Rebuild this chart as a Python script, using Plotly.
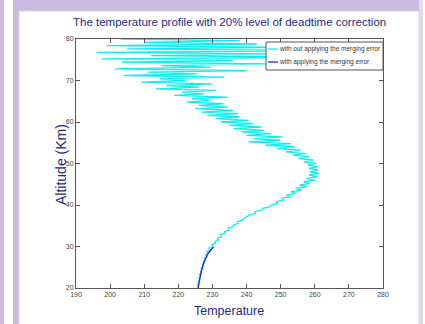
import plotly.graph_objects as go

ALT = [
    20.0, 20.4, 20.8, 21.2, 21.6, 22.0, 22.4, 22.8, 23.2, 23.6,
    24.0, 24.4, 24.8, 25.2, 25.6, 26.0, 26.4, 26.8, 27.2, 27.6,
    28.0, 28.4, 28.8, 29.2, 29.6, 30.0, 30.4, 30.8, 31.2, 31.6,
    32.0, 32.4, 32.8, 33.2, 33.6, 34.0, 34.4, 34.8, 35.2, 35.6,
    36.0, 36.4, 36.8, 37.2, 37.6, 38.0, 38.4, 38.8, 39.2, 39.6,
    40.0, 40.4, 40.8, 41.2, 41.6, 42.0, 42.4, 42.8, 43.2, 43.6,
    44.0, 44.4, 44.8, 45.2, 45.6, 46.0, 46.4, 46.8, 47.2, 47.6,
    48.0, 48.4, 48.8, 49.2, 49.6, 50.0, 50.4, 50.8, 51.2, 51.6,
    52.0, 52.4, 52.8, 53.2, 53.6, 54.0, 54.4, 54.8, 55.2, 55.6,
    56.0, 56.4, 56.8, 57.2, 57.6, 58.0, 58.4, 58.8, 59.2, 59.6,
    60.0, 60.4, 60.8, 61.2, 61.6, 62.0, 62.4, 62.8, 63.2, 63.6,
    64.0, 64.4, 64.8, 65.2, 65.6, 66.0, 66.4, 66.8, 67.2, 67.6,
    68.0, 68.4, 68.8, 69.2, 69.6, 70.0, 70.4, 70.8, 71.2, 71.6,
    72.0, 72.4, 72.8, 73.2, 73.6, 74.0, 74.4, 74.8, 75.2, 75.6,
    76.0, 76.4, 76.8, 77.2, 77.6, 78.0, 78.4, 78.8, 79.2, 79.6,
    80.0,
]
TEMP_NO_MERGE = [
    225.7, 225.9, 225.6, 226.0, 225.8, 226.3, 226.0, 226.5, 226.2, 226.8,
    226.6, 227.0, 226.7, 227.3, 227.1, 227.6, 227.3, 228.0, 227.7, 228.4,
    228.0, 228.8, 228.4, 229.3, 229.0, 230.1, 229.8, 230.9, 230.7, 231.8,
    231.5, 232.6, 232.4, 233.5, 233.6, 234.8, 234.6, 236.0, 236.2, 237.5,
    237.3, 238.9, 239.2, 240.3, 240.9, 242.6, 242.4, 244.5, 244.8, 246.9,
    247.2, 249.3, 248.6, 251.0, 250.2, 252.9, 251.6, 254.5, 253.0, 256.2,
    254.4, 257.6, 255.5, 258.6, 256.8, 260.0, 257.5, 260.8, 258.3, 261.2,
    258.6, 261.0, 258.2, 260.9, 257.9, 260.3, 256.8, 259.6, 255.2, 258.5,
    253.5, 257.3, 251.5, 255.8, 249.0, 254.2, 245.5, 253.0, 240.5, 249.8,
    242.0, 250.5, 240.0, 247.2, 238.5, 245.0, 236.2, 244.3, 234.8, 242.0,
    232.5, 240.5, 231.0, 238.0, 228.5, 237.5, 226.8, 236.0, 225.0, 234.5,
    226.0, 233.2, 222.5, 229.0, 224.0, 234.5, 218.8, 227.5, 221.0, 231.0,
    213.5, 226.2, 216.5, 229.8, 209.2, 222.0, 214.5, 233.5, 204.0, 225.5,
    211.0, 240.0, 201.5, 229.5, 215.0, 247.0, 203.5, 236.0, 197.5, 262.0,
    212.0, 248.5, 196.0, 266.0, 205.0, 252.0, 199.0, 243.0, 210.0, 238.0,
    203.0,
]
BLUE_ALT = [20.0, 20.5, 21.0, 21.5, 22.0, 22.5, 23.0, 23.5, 24.0, 24.5,
            25.0, 25.5, 26.0, 26.5, 27.0, 27.5, 28.0, 28.5, 29.0, 29.5, 29.8]
TEMP_MERGE = [225.8, 225.9, 226.0, 226.1, 226.1, 226.3, 226.4, 226.5, 226.7, 226.9,
              227.0, 227.2, 227.4, 227.7, 227.9, 228.2, 228.5, 228.9, 229.3, 229.9, 230.4]

X_TICKS = [190, 200, 210, 220, 230, 240, 250, 260, 270, 280]
Y_TICKS = [20, 30, 40, 50, 60, 70, 80]

TITLE = "The temperature profile with 20% level of deadtime correction"
LEGEND_LABELS = ["with out applying the merging error", "with applying the merging error"]
CYAN = "#12ecec"
BLUE = "#2626b8"
NAVY = "#1e2a78"
FONT = "Liberation Sans, Arial"

n = min(len(ALT), len(TEMP_NO_MERGE))

W, H = 425, 324
L, R, T, B = 76, 383, 39, 288


def px(x):
    return (x - L) / (R - L)


def py(y):
    return (B - y) / (B - T)


fig = go.Figure()
fig.add_trace(go.Scatter(x=TEMP_NO_MERGE[:n], y=ALT[:n], mode="lines",
                         line=dict(color=CYAN, width=1.3), name=LEGEND_LABELS[0]))
fig.add_trace(go.Scatter(x=TEMP_MERGE, y=BLUE_ALT, mode="lines",
                         line=dict(color=BLUE, width=1.3), name=LEGEND_LABELS[1]))

shapes = []
# slide frame
shapes.append(dict(type="rect", xref="paper", yref="paper", layer="below",
                   x0=px(0), x1=px(4), y0=py(324), y1=py(0),
                   fillcolor="#cdbde3", line=dict(width=0)))
shapes.append(dict(type="rect", xref="paper", yref="paper", layer="below",
                   x0=px(13), x1=px(423), y0=py(11), y1=py(0),
                   fillcolor="#c9b8e0", line=dict(width=0)))
shapes.append(dict(type="rect", xref="paper", yref="paper", layer="below",
                   x0=px(13), x1=px(19), y0=py(324), y1=py(0),
                   fillcolor="#c9b8e0", line=dict(width=0)))
shapes.append(dict(type="rect", xref="paper", yref="paper", layer="below",
                   x0=px(419), x1=px(423), y0=py(324), y1=py(0),
                   fillcolor="#e3daf0", line=dict(width=0)))
shapes.append(dict(type="rect", xref="paper", yref="paper", layer="below",
                   x0=px(19), x1=px(419), y0=py(326), y1=py(11),
                   fillcolor="white", line=dict(color="#d8d8d8", width=1)))
# legend box
lx0, lx1, ly0, ly1 = 266, 383, 42, 70
shapes.append(dict(type="rect", xref="paper", yref="paper", layer="above",
                   x0=px(lx0), x1=px(lx1), y0=py(ly1), y1=py(ly0),
                   fillcolor="white", line=dict(color="#555555", width=1)))
for i, (yy, col) in enumerate([(49, CYAN), (62, BLUE)]):
    shapes.append(dict(type="line", xref="paper", yref="paper", layer="above",
                       x0=px(268), x1=px(278), y0=py(yy), y1=py(yy),
                       line=dict(color=col, width=1.3)))

annotations = []
for i, yy in enumerate([49, 62]):
    annotations.append(dict(xref="paper", yref="paper", x=px(277), y=py(yy),
                            xanchor="left", yanchor="middle", showarrow=False,
                            text=LEGEND_LABELS[i],
                            font=dict(family=FONT, size=6.5, color="#333333")))
annotations.append(dict(xref="paper", yref="paper", x=px(229), y=py(311),
                        xanchor="center", yanchor="middle", showarrow=False,
                        text="Temperature",
                        font=dict(family=FONT, size=12.5, color=NAVY)))
annotations.append(dict(xref="paper", yref="paper", x=px(61), y=py(165),
                        xanchor="center", yanchor="middle", showarrow=False,
                        text="Altitude (Km)", textangle=-90,
                        font=dict(family=FONT, size=14, color=NAVY)))
annotations.append(dict(xref="paper", yref="paper", x=px(229), y=py(22),
                        xanchor="center", yanchor="middle", showarrow=False,
                        text=TITLE,
                        font=dict(family=FONT, size=11.5, color=NAVY)))

axis_common = dict(showgrid=False, zeroline=False, showline=True, linecolor="#555555",
                   linewidth=1, mirror="ticks", ticks="inside", ticklen=4,
                   tickcolor="#555555",
                   tickfont=dict(family=FONT, size=7, color="#444444"))

fig.update_layout(
    width=W, height=H,
    margin=dict(l=L, r=W - R, t=T, b=H - B),
    paper_bgcolor="white", plot_bgcolor="white",
    showlegend=False,
    xaxis=dict(range=[190, 280], tickvals=X_TICKS, ticktext=[str(v) for v in X_TICKS],
               **axis_common),
    yaxis=dict(range=[20, 80], tickvals=Y_TICKS, ticktext=[str(v) for v in Y_TICKS],
               **axis_common),
    shapes=shapes,
    annotations=annotations,
)

fig.write_html("out.html", config={"displayModeBar": False},
               post_script="document.body.style.margin='0px';")
